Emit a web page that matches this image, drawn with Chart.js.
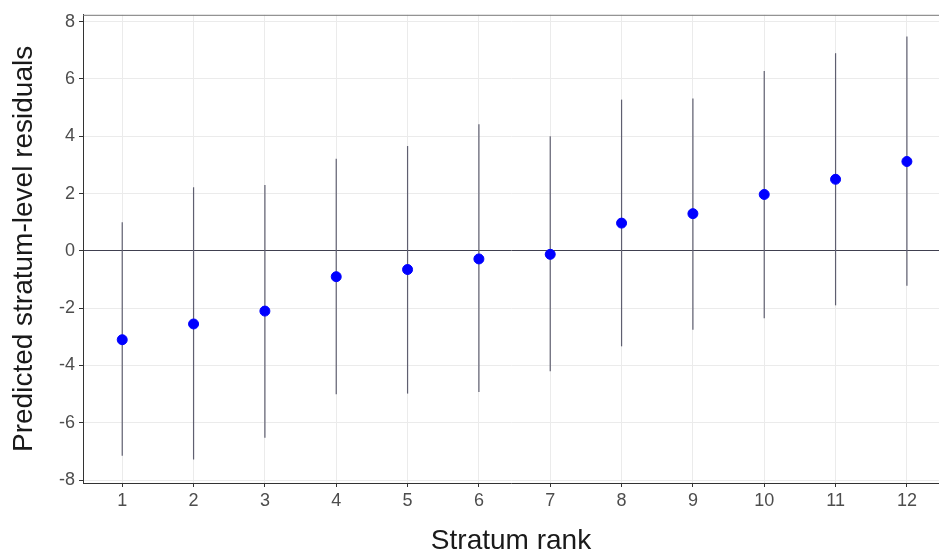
<!DOCTYPE html>
<html>
<head>
<meta charset="utf-8">
<script src="https://cdn.jsdelivr.net/npm/chart.js@4/dist/chart.umd.min.js"></script>
<style>
  html, body { margin: 0; padding: 0; background: #fff; }
  #wrap { width: 939px; height: 553px; }
</style>
</head>
<body>
<div id="wrap"><canvas id="resid"></canvas></div>
<script>
// stratum ranks and predicted residuals with interval ends
const ranks = [1, 2, 3, 4, 5, 6, 7, 8, 9, 10, 11, 12];
const estimates = [-3.1, -2.55, -2.1, -0.9, -0.65, -0.28, -0.12, 0.97, 1.3, 1.97, 2.5, 3.12];
const lower = [-7.15, -7.28, -6.52, -5.0, -4.98, -4.92, -4.2, -3.33, -2.75, -2.35, -1.9, -1.22];
const upper = [1.0, 2.22, 2.3, 3.22, 3.66, 4.42, 4.0, 5.28, 5.32, 6.28, 6.9, 7.48];
const yTicks = [-8, -6, -4, -2, 0, 2, 4, 6, 8];

const fontFam = 'Arial, "Liberation Sans", sans-serif';

// vertical interval lines + top panel line
const errorBars = {
    id: 'errorBars',
    beforeDatasetsDraw(chart) {
        const { ctx, chartArea, scales: { x, y } } = chart;
        ctx.save();
        ctx.strokeStyle = '#5f5f70';
        ctx.lineWidth = 1.2;
        ranks.forEach((r, i) => {
            const px = x.getPixelForValue(r);
            ctx.beginPath();
            ctx.moveTo(px, y.getPixelForValue(lower[i]));
            ctx.lineTo(px, y.getPixelForValue(upper[i]));
            ctx.stroke();
        });
        // top border
        ctx.strokeStyle = '#777';
        ctx.lineWidth = 1;
        ctx.beginPath();
        ctx.moveTo(chartArea.left, chartArea.top + 0.5);
        ctx.lineTo(chartArea.right, chartArea.top + 0.5);
        ctx.stroke();
        ctx.restore();
    }
};

new Chart('resid', {
    type: 'scatter',
    data: {
        datasets: [{
            data: ranks.map((r, i) => ({ x: r, y: estimates[i] })),
            backgroundColor: '#0000ff',
            borderColor: '#0000ff',
            pointRadius: 5,
            pointHoverRadius: 5
        }]
    },
    options: {
        responsive: true,
        maintainAspectRatio: false,
        animation: false,
        layout: { autoPadding: false, padding: { top: 13, left: 0, right: 0, bottom: 0 } },
        plugins: { legend: { display: false }, tooltip: { enabled: false } },
        scales: {
            x: {
                type: 'linear',
                min: 0.45,
                max: 12.45,
                afterBuildTicks(scale) { scale.ticks = ranks.map(v => ({ value: v })); },
                ticks: {
                    color: '#4d4d4d',
                    font: { family: fontFam, size: 18 },
                    padding: 3
                },
                grid: { color: '#ebebeb', tickColor: '#333', tickLength: 4, lineWidth: 1 },
                border: { color: '#333', width: 1 },
                title: {
                    display: true,
                    text: 'Stratum rank',
                    color: '#1a1a1a',
                    font: { family: fontFam, size: 28, lineHeight: 1.0 },
                    padding: { top: 4, bottom: -2 }
                },
                afterFit(scale) {
                    scale.height = 70;
                    scale.paddingRight = 0;
                    scale.paddingLeft = 0;
                }
            },
            y: {
                min: -8.1,
                max: 8.24,
                afterBuildTicks(scale) { scale.ticks = yTicks.map(v => ({ value: v })); },
                ticks: {
                    color: '#4d4d4d',
                    font: { family: fontFam, size: 18 },
                    padding: 4
                },
                grid: {
                    color: ctx => ctx.tick && ctx.tick.value === 0 ? '#404050' : '#ebebeb',
                    tickColor: '#333',
                    tickLength: 4,
                    lineWidth: 1
                },
                border: { color: '#333', width: 1 },
                title: {
                    display: true,
                    text: 'Predicted stratum-level residuals',
                    color: '#1a1a1a',
                    font: { family: fontFam, size: 28, lineHeight: 1.0 },
                    padding: { top: 10, bottom: 4 }
                },
                afterFit(scale) { scale.width = 83; }
            }
        }
    },
    plugins: [errorBars]
});
</script>
</body>
</html>
